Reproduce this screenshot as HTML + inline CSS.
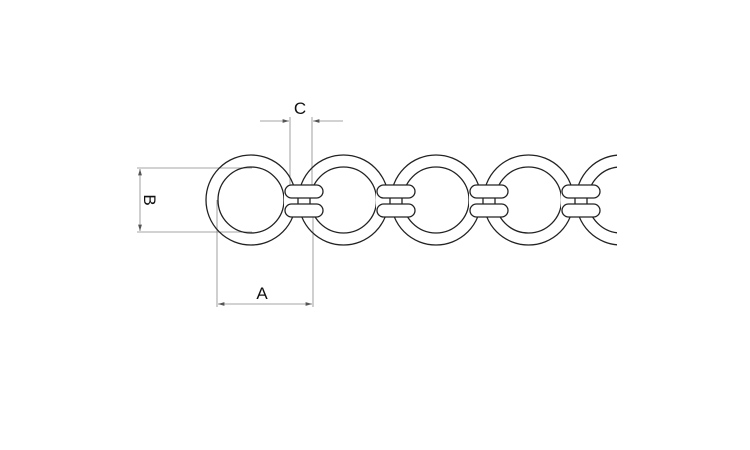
<!DOCTYPE html>
<html><head><meta charset="utf-8"><style>
html,body{margin:0;padding:0;background:#fff;}
svg{display:block}
text{font-family:"Liberation Sans",Arial,sans-serif;font-size:17px;fill:#111}
</style></head><body>
<svg width="750" height="450" viewBox="0 0 750 450" xmlns="http://www.w3.org/2000/svg">
<defs>
<clipPath id="cl"><rect x="0" y="0" width="617" height="450"/></clipPath>
<marker id="ar" viewBox="0 0 10 6" refX="10" refY="3" markerWidth="8" markerHeight="5" orient="auto-start-reverse"><path d="M0,0 L10,3 L0,6 z" fill="#555"/></marker>
</defs>
<!-- dimension lines -->
<g stroke="#888" stroke-width="0.8" fill="none">
<line x1="137" y1="168" x2="252" y2="168"/>
<line x1="137" y1="232" x2="252" y2="232"/>
<line x1="140" y1="169" x2="140" y2="231" marker-start="url(#ar)" marker-end="url(#ar)"/>
<line x1="217" y1="200" x2="217" y2="307"/>
<line x1="313" y1="200" x2="313" y2="307"/>
<line x1="218" y1="304" x2="312" y2="304" marker-start="url(#ar)" marker-end="url(#ar)"/>
<line x1="290" y1="117" x2="290" y2="200"/>
<line x1="312" y1="117" x2="312" y2="200"/>
<line x1="260" y1="121" x2="289" y2="121" marker-end="url(#ar)"/>
<line x1="343" y1="121" x2="313" y2="121" marker-end="url(#ar)"/>
</g>
<text x="300" y="114" text-anchor="middle">C</text>
<text x="262" y="299" text-anchor="middle">A</text>
<text transform="translate(144,200) rotate(90)" text-anchor="middle">B</text>
<g clip-path="url(#cl)" stroke="#222" stroke-width="1.3">
<g fill="none">
<circle cx="251" cy="200" r="45"/><circle cx="251" cy="200" r="33"/>
<circle cx="343.5" cy="200" r="45"/><circle cx="343.5" cy="200" r="33"/>
<circle cx="436" cy="200" r="45"/><circle cx="436" cy="200" r="33"/>
<circle cx="528.5" cy="200" r="45"/><circle cx="528.5" cy="200" r="33"/>
<circle cx="621" cy="200" r="45"/><circle cx="621" cy="200" r="33"/>
</g>
<g id="lk">
<rect x="284" y="186" width="40" height="29" fill="#fff" stroke="none"/>
<rect x="285" y="185" width="38" height="13" rx="6.5" fill="#fff"/>
<rect x="285" y="204" width="38" height="13" rx="6.5" fill="#fff"/>
<line x1="298" y1="198" x2="298" y2="204"/>
<line x1="310" y1="198" x2="310" y2="204"/>
</g>
<use href="#lk" transform="translate(92,0)"/>
<use href="#lk" transform="translate(185,0)"/>
<use href="#lk" transform="translate(277,0)"/>
</g>
</svg>
</body></html>
